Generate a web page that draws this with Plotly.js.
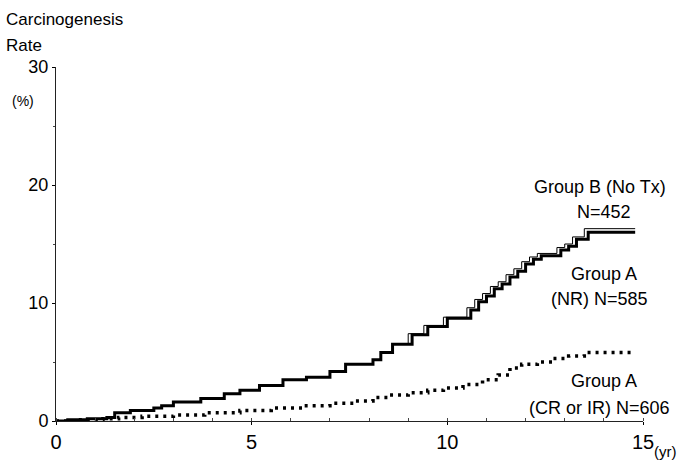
<!DOCTYPE html>
<html>
<head>
<meta charset="utf-8">
<script src="https://cdn.plot.ly/plotly-3.0.1.min.js"></script>
<style>html,body{margin:0;padding:0;background:#fff;}#chart{width:683px;height:462px;}</style>
</head>
<body>
<div id="chart"></div>
<script>
// Group A (NR) N=585 — thick solid step line
const nrYears = [0, 0.3, 0.8, 1.3, 1.5, 1.9, 2.5, 2.7, 3.0, 3.7, 4.3, 4.7, 5.2, 5.8, 6.4, 7.0, 7.4, 8.1, 8.3, 8.6, 9.1, 9.5, 10.0, 10.6, 10.8, 11.0, 11.2, 11.4, 11.6, 11.8, 12.0, 12.2, 12.4, 12.9, 13.1, 13.3, 13.6, 14.8];
const nrRate  = [0, 0.1, 0.2, 0.3, 0.7, 0.9, 1.1, 1.3, 1.6, 1.9, 2.3, 2.6, 3.0, 3.5, 3.7, 4.2, 4.8, 5.2, 5.8, 6.5, 7.3, 8.0, 8.7, 9.4, 10.1, 10.6, 11.2, 11.6, 12.2, 12.7, 13.3, 13.7, 14.0, 14.5, 14.8, 15.4, 16.0, 16.0];
// Group B (No Tx) N=452 — thin solid step line
const bYears = [0, 0.3, 0.8, 1.3, 1.5, 1.9, 2.5, 2.7, 3.0, 3.7, 4.3, 4.7, 5.2, 5.8, 6.4, 7.0, 7.4, 8.1, 8.3, 8.6, 9.0, 9.4, 9.9, 10.5, 10.7, 10.9, 11.1, 11.3, 11.5, 11.7, 11.9, 12.1, 12.3, 12.8, 13.0, 13.2, 13.5, 14.8];
const bRate  = [0, 0.1, 0.2, 0.3, 0.7, 0.9, 1.1, 1.3, 1.6, 1.9, 2.3, 2.6, 3.0, 3.5, 3.7, 4.2, 4.8, 5.2, 5.8, 6.5, 7.4, 8.1, 8.8, 9.6, 10.3, 10.8, 11.4, 11.8, 12.4, 12.9, 13.5, 13.9, 14.2, 14.7, 15.0, 15.6, 16.3, 16.3];
// Group A (CR or IR) N=606 — dotted line
const crYears = [0, 0.5, 1.2, 1.6, 2.2, 3.0, 3.8, 4.7, 5.5, 6.3, 7.0, 7.6, 8.1, 8.5, 9.0, 9.5, 9.9, 10.4, 10.9, 11.3, 11.6, 11.9, 12.3, 12.7, 13.1, 13.5, 14.7];
const crRate  = [0, 0.1, 0.2, 0.3, 0.4, 0.5, 0.7, 0.9, 1.1, 1.3, 1.5, 1.7, 2.0, 2.2, 2.4, 2.6, 2.8, 3.1, 3.5, 3.9, 4.5, 4.8, 5.0, 5.3, 5.5, 5.8, 5.8];

const xTicks = [0, 5, 10, 15];
const yTicks = [0, 10, 20, 30];

const FONT = '"Liberation Sans", Arial, sans-serif';

const traces = [
  {x: bYears, y: bRate, type: 'scatter', mode: 'lines', line: {shape: 'hv', color: '#000', width: 1}, name: 'Group B (No Tx)'},
  {x: nrYears, y: nrRate, type: 'scatter', mode: 'lines', line: {shape: 'hv', color: '#000', width: 3}, name: 'Group A (NR)'},
  {x: crYears, y: crRate, type: 'scatter', mode: 'lines', line: {shape: 'hv', color: '#000', width: 3.5, dash: '3px,5px'}, name: 'Group A (CR or IR)'}
];

const annFont = {family: FONT, size: 18, color: '#000'};
const layout = {
  width: 683, height: 462,
  margin: {l: 56, r: 40, t: 67, b: 41},
  paper_bgcolor: '#fff', plot_bgcolor: '#fff',
  showlegend: false,
  font: {family: FONT, color: '#000'},
  xaxis: {
    range: [0, 15], tickvals: xTicks, ticktext: xTicks.map(String),
    showgrid: false, zeroline: false, showline: true, linecolor: '#222', linewidth: 1,
    ticks: 'outside', ticklen: 3, tickcolor: '#000',
    minor: {dtick: 1, ticks: 'inside', ticklen: 3, tickcolor: '#444', showgrid: false},
    tickfont: {family: FONT, size: 20, color: '#000'}
  },
  yaxis: {
    range: [0, 30], tickvals: yTicks, ticktext: yTicks.map(String),
    showgrid: false, zeroline: false, showline: true, linecolor: '#222', linewidth: 1,
    ticks: 'outside', ticklen: 3, tickcolor: '#000', ticklabelstandoff: 0,
    minor: {tickvals: [5, 15, 25], ticks: 'outside', ticklen: 2, tickcolor: '#444', showgrid: false},
    tickfont: {family: FONT, size: 18, color: '#000'}
  },
  annotations: [
    {xref: 'paper', yref: 'paper', x: -0.08, y: 1.133, xanchor: 'left', yanchor: 'middle', showarrow: false, text: 'Carcinogenesis', font: {family: FONT, size: 17, color: '#000'}, xshift: -5},
    {xref: 'paper', yref: 'paper', x: -0.08, y: 1.062, xanchor: 'left', yanchor: 'middle', showarrow: false, text: 'Rate', font: {family: FONT, size: 17, color: '#000'}, xshift: -5},
    {xref: 'paper', yref: 'paper', x: -0.078, y: 0.905, xanchor: 'left', yanchor: 'middle', showarrow: false, text: '(%)', font: {family: FONT, size: 14, color: '#000'}},
    {xref: 'paper', yref: 'paper', x: 1.0, y: -0.085, xanchor: 'left', yanchor: 'middle', showarrow: false, text: '(yr)', font: {family: FONT, size: 15, color: '#000'}, xshift: 9},
    {xref: 'x', yref: 'y', x: 13.9, y: 19.8, xanchor: 'center', yanchor: 'middle', showarrow: false, text: 'Group B (No Tx)', font: annFont},
    {xref: 'x', yref: 'y', x: 14.0, y: 17.7, xanchor: 'center', yanchor: 'middle', showarrow: false, text: 'N=452', font: annFont},
    {xref: 'x', yref: 'y', x: 14.0, y: 12.5, xanchor: 'center', yanchor: 'middle', showarrow: false, text: 'Group A', font: annFont},
    {xref: 'x', yref: 'y', x: 13.9, y: 10.3, xanchor: 'center', yanchor: 'middle', showarrow: false, text: '(NR) N=585', font: annFont},
    {xref: 'x', yref: 'y', x: 14.0, y: 3.4, xanchor: 'center', yanchor: 'middle', showarrow: false, text: 'Group A', font: annFont},
    {xref: 'x', yref: 'y', x: 13.9, y: 1.1, xanchor: 'center', yanchor: 'middle', showarrow: false, text: '(CR or IR) N=606', font: annFont}
  ]
};

Plotly.newPlot('chart', traces, layout, {displayModeBar: false, staticPlot: true});
</script>
</body>
</html>
